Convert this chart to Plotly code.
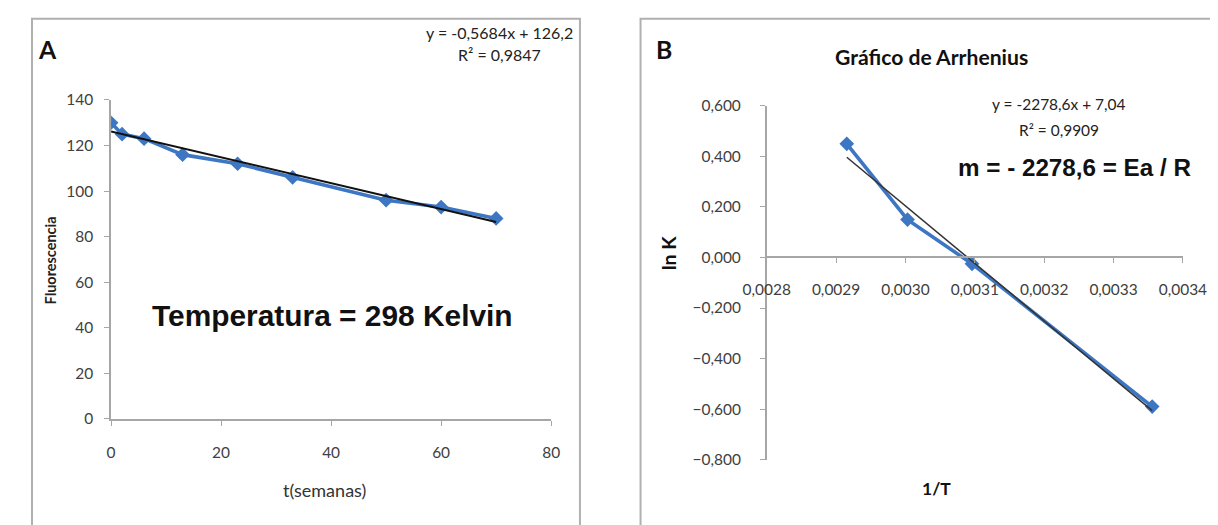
import plotly.graph_objects as go

# ---- Panel A data ----
t_semanas = [0, 2, 6, 13, 23, 33, 50, 60, 70]
fluorescencia = [130, 125, 123, 116, 112, 106, 96, 93, 88]
trendA_slope = -0.5684
trendA_intercept = 126.2
xA_ticks = [0, 20, 40, 60, 80]
yA_ticks = [0, 20, 40, 60, 80, 100, 120, 140]

# ---- Panel B data ----
temperaturas_K = [343, 333, 323, 298]
inv_T = [1.0 / T for T in temperaturas_K]
ln_K = [0.45, 0.15, -0.025, -0.59]
trendB_slope = -2278.6
trendB_intercept = 7.04
xB_ticks = [0.0028, 0.0029, 0.0030, 0.0031, 0.0032, 0.0033, 0.0034]
yB_ticks = [0.6, 0.4, 0.2, 0.0, -0.2, -0.4, -0.6, -0.8]

W, H = 1218, 525
# observed screen mapping of figure pixels: X = SX*p + OX, Y = SY*p + OY
SX, OX = 0.967, 26.4
SY, OY = 0.972, 14.5
def px(X):
    return max(0.0008, (X - OX) / SX) / W
def py(Y):
    return 1 - max(0.0015 * H, (Y - OY) / SY) / H
def fs(s):
    return s / 0.97

BLUE = "#3d77c4"
CAL = "Lato, Liberation Sans, Arial"
ARIAL = "Liberation Sans, Arial"
TICKFONT = dict(family=CAL, size=fs(15), color="#404040")
AXIS_COLOR = "#a6a6a6"

fig = go.Figure()

# Panel A
fig.add_trace(go.Scatter(
    x=t_semanas, y=fluorescencia, mode="lines+markers",
    line=dict(color=BLUE, width=fs(3.5)),
    marker=dict(symbol="diamond", size=fs(11), color=BLUE),
    xaxis="x", yaxis="y", showlegend=False))
trA_x = [t_semanas[0], t_semanas[-1]]
trA_y = [trendA_slope * v + trendA_intercept for v in trA_x]
fig.add_trace(go.Scatter(
    x=trA_x, y=trA_y, mode="lines",
    line=dict(color="#111111", width=fs(2)),
    xaxis="x", yaxis="y", showlegend=False))

# Panel B
fig.add_trace(go.Scatter(
    x=inv_T, y=ln_K, mode="lines+markers",
    line=dict(color=BLUE, width=fs(3.5)),
    marker=dict(symbol="diamond", size=fs(11), color=BLUE),
    xaxis="x2", yaxis="y2", showlegend=False))
trB_x = [inv_T[0], inv_T[-1]]
trB_y = [trendB_slope * v + trendB_intercept for v in trB_x]
fig.add_trace(go.Scatter(
    x=trB_x, y=trB_y, mode="lines",
    line=dict(color="#333333", width=fs(1.5)),
    xaxis="x2", yaxis="y2", showlegend=False))

common_axis = dict(showgrid=False, zeroline=False, showline=True, linecolor=AXIS_COLOR,
                   linewidth=1.5, ticks="outside", tickcolor=AXIS_COLOR, ticklen=5,
                   tickfont=TICKFONT, fixedrange=True)

fig.update_layout(
    width=W, height=H,
    margin=dict(l=0, r=0, t=0, b=0),
    paper_bgcolor="white", plot_bgcolor="rgba(0,0,0,0)",
    separators=",.",
    xaxis=dict(domain=[px(106), px(549)], range=[0, 80], tickvals=xA_ticks,
               anchor="y", ticklabelstandoff=14, **common_axis),
    yaxis=dict(domain=[py(418), py(97)], range=[0, 140], tickvals=yA_ticks,
               anchor="x", ticklabelstandoff=8, **common_axis),
    xaxis2=dict(domain=[px(766), px(1185)], range=[0.0028, 0.0034], tickvals=xB_ticks,
                tickformat=".4f", anchor="free", position=py(255),
                ticklabelstandoff=14, **common_axis),
    yaxis2=dict(domain=[py(459), py(103)], range=[-0.8, 0.6], tickvals=yB_ticks,
                tickformat=".3f", anchor="x2", ticklabelstandoff=16, **common_axis),
)

# Panel frames
fig.add_shape(type="rect", xref="paper", yref="paper",
              x0=px(10), x1=px(578), y0=py(560), y1=py(12),
              line=dict(color="#b0b0b0", width=2), layer="below")
fig.add_shape(type="rect", xref="paper", yref="paper",
              x0=px(639), x1=px(1260), y0=py(560), y1=py(12),
              line=dict(color="#b0b0b0", width=2), layer="below")

def note(x, y, text, size, bold=False, family=CAL, color="#222222", angle=0):
    fig.add_annotation(xref="paper", yref="paper", x=px(x), y=py(y),
                       text=f"<b>{text}</b>" if bold else text, showarrow=False,
                       textangle=angle,
                       font=dict(size=fs(size), family=family, color=color),
                       xanchor="center", yanchor="middle")

# Panel A texts
note(42, 46, "A", 24, bold=True, color="#111111")
note(497, 29, "y = -0,5684x + 126,2", 15.5)
note(497, 51, "R² = 0,9847", 15.5)
note(329, 314, "Temperatura = 298 Kelvin", 29, bold=True, family=ARIAL, color="#111111")
note(321, 490, "t(semanas)", 17.5, color="#333333")
note(45, 258, "Fluorescencia", 14, bold=True, angle=-90)

# Panel B texts
note(663, 46, "B", 24, bold=True, color="#111111")
note(932, 54, "Gráfico de Arrhenius", 20.5, bold=True, color="#111111")
note(1060, 101, "y = -2278,6x + 7,04", 15)
note(1060, 127, "R² = 0,9909", 15)
note(1076, 165, "m = - 2278,6 = Ea / R", 23.5, bold=True, family=ARIAL, color="#111111")
note(937, 488, "1/T", 17, bold=True, color="#111111")
note(668, 251, "ln K", 19, bold=True, color="#111111", angle=-90)

fig.write_html("out.html")
